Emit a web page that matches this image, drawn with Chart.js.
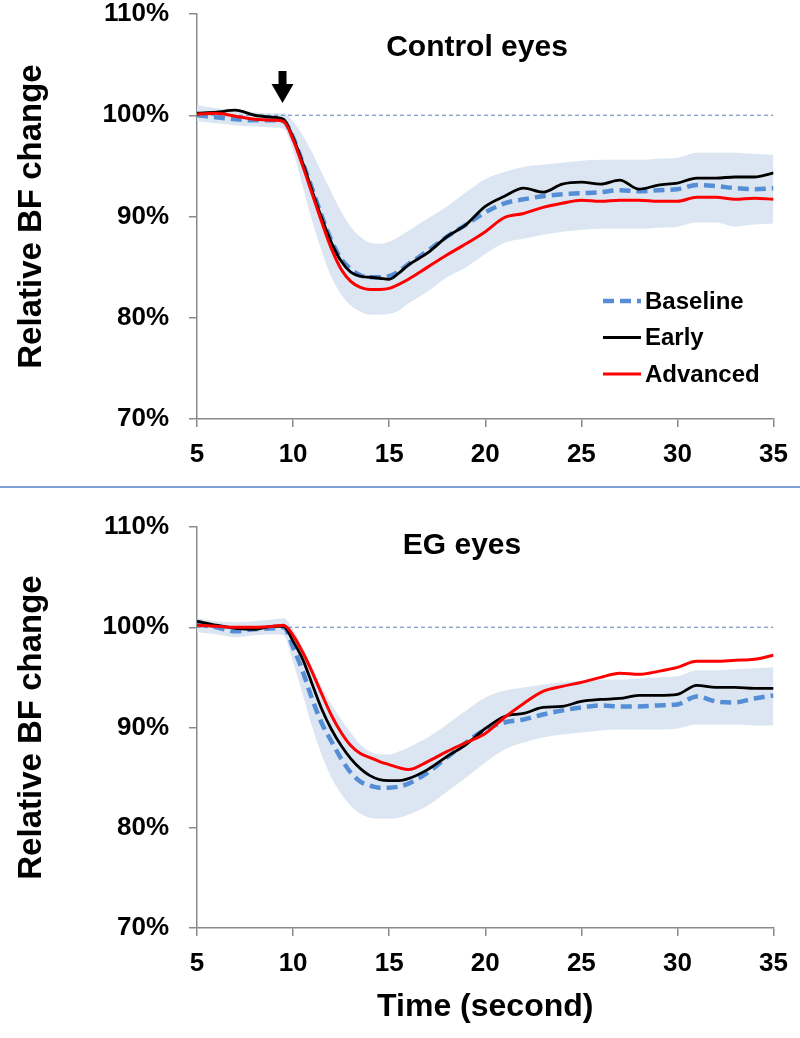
<!DOCTYPE html>
<html>
<head>
<meta charset="utf-8">
<script src="https://cdn.jsdelivr.net/npm/chart.js@4.4.1/dist/chart.umd.min.js"></script>
<style>
  body { margin: 0; background: #fff; overflow: hidden; }
  #wrap { position: relative; width: 800px; height: 1038px; overflow: hidden; }
  #topChart { position: absolute; left: 0; top: -25px; }
  #bottomChart { position: absolute; left: 0; top: 488px; }
  #rule { position: absolute; left: 0; top: 486px; width: 800px; height: 2px; background: #7f9fd3; }
</style>
</head>
<body>
<div id="wrap">
  <canvas id="topChart" width="800" height="511"></canvas>
  <div id="rule"></div>
  <canvas id="bottomChart" width="800" height="550"></canvas>
</div>
<script>
// time in seconds
const times = [5, 6, 7, 8, 9, 9.5, 10, 10.5, 11, 11.5, 12, 12.5, 13, 13.5, 14, 14.5, 15, 15.5,
               16, 17, 18, 19, 20, 21, 22, 23, 24, 25, 26, 27, 28, 29, 30, 31, 32, 33, 34, 35];
const xTicks = [5, 10, 15, 20, 25, 30, 35];
const yTicks = [70, 80, 90, 100, 110];
const refLevel = 100;
const stimulusTime = 9.45;

// Control eyes (relative BF, %)
const controlBaseline = [100.0, 99.8, 99.6, 99.5, 99.5, 99.4, 97.8, 95.3, 92.7, 90.0, 87.6, 85.8, 84.8, 84.2, 84.0, 84.0, 84.1, 84.6,
                         85.3, 86.6, 88.0, 89.2, 90.4, 91.3, 91.7, 92.0, 92.2, 92.3, 92.4, 92.6, 92.5, 92.6, 92.7, 93.1, 93.0, 92.8, 92.7, 92.8];
const controlEarly = [100.2, 100.3, 100.5, 100.0, 99.8, 99.6, 97.8, 95.3, 92.5, 89.8, 87.4, 85.6, 84.5, 84.1, 84.0, 83.9, 83.8, 84.4,
                      85.2, 86.4, 88.0, 89.2, 91.0, 92.0, 92.8, 92.4, 93.2, 93.4, 93.2, 93.6, 92.7, 93.1, 93.3, 93.8, 93.8, 93.9, 93.9, 94.3];
const controlAdvanced = [100.1, 100.2, 99.9, 99.6, 99.5, 99.4, 97.6, 95.0, 92.2, 89.4, 86.8, 84.8, 83.6, 83.0, 82.8, 82.8, 82.9, 83.3,
                         83.8, 85.0, 86.2, 87.3, 88.5, 89.9, 90.3, 90.9, 91.3, 91.6, 91.5, 91.6, 91.6, 91.5, 91.5, 91.9, 91.9, 91.7, 91.8, 91.7];
const controlUpper = [101.0, 100.7, 100.5, 100.3, 100.2, 100.2, 99.4, 98.0, 96.3, 94.3, 92.4, 90.5, 89.0, 88.0, 87.4, 87.3, 87.5, 88.0,
                      88.6, 89.8, 91.0, 92.4, 93.7, 94.4, 94.9, 95.1, 95.3, 95.5, 95.6, 95.6, 95.6, 95.7, 95.8, 96.3, 96.3, 96.3, 96.2, 96.1];
const controlLower = [99.4, 99.2, 99.0, 98.9, 98.8, 98.7, 96.5, 93.0, 89.5, 86.5, 84.0, 82.3, 81.2, 80.6, 80.3, 80.3, 80.4, 80.7,
                      81.4, 82.6, 84.0, 85.0, 86.3, 87.4, 87.8, 88.2, 88.5, 88.7, 88.8, 88.8, 88.8, 88.9, 89.0, 89.4, 89.4, 89.0, 89.2, 89.3];

// EG eyes (relative BF, %)
const egBaseline = [100.3, 100.0, 99.6, 99.8, 99.9, 100.0, 98.0, 95.6, 92.8, 90.4, 88.6, 86.9, 85.5, 84.6, 84.2, 84.0, 84.0, 84.1,
                    84.4, 85.5, 87.0, 88.5, 89.8, 90.5, 90.8, 91.3, 91.7, 92.0, 92.2, 92.1, 92.1, 92.2, 92.3, 93.1, 92.6, 92.5, 92.9, 93.2];
const egEarly = [100.6, 100.2, 99.9, 99.8, 100.1, 100.1, 98.6, 96.8, 94.3, 91.8, 89.8, 88.2, 86.9, 85.9, 85.2, 84.8, 84.7, 84.7,
                 84.9, 85.8, 87.1, 88.3, 89.9, 91.1, 91.4, 92.0, 92.1, 92.6, 92.8, 92.9, 93.2, 93.2, 93.3, 94.2, 94.0, 94.0, 93.9, 93.9];
const egAdvanced = [100.2, 100.1, 100.0, 100.0, 100.1, 100.2, 99.2, 97.5, 95.5, 93.3, 91.2, 89.5, 88.2, 87.4, 87.0, 86.6, 86.3, 86.0,
                    85.8, 86.6, 87.6, 88.5, 89.4, 91.0, 92.4, 93.6, 94.1, 94.5, 95.0, 95.4, 95.3, 95.6, 96.0, 96.6, 96.6, 96.7, 96.8, 97.2];
const egUpper = [100.9, 100.6, 100.5, 100.6, 100.8, 100.9, 99.8, 98.0, 96.0, 94.0, 92.3, 90.8, 89.5, 88.3, 87.6, 87.3, 87.3, 87.6,
                 88.0, 89.0, 90.3, 91.7, 93.0, 93.7, 94.0, 94.3, 94.5, 94.7, 94.8, 94.8, 94.9, 95.0, 95.1, 95.7, 95.7, 95.8, 95.9, 96.0];
const egLower = [99.5, 99.3, 99.0, 99.2, 99.3, 99.2, 96.5, 93.3, 90.0, 87.2, 85.0, 83.4, 82.2, 81.4, 81.0, 80.9, 80.9, 81.0,
                 81.3, 82.2, 83.6, 85.0, 86.5, 87.8, 88.5, 89.0, 89.3, 89.5, 89.7, 89.8, 89.8, 89.8, 89.9, 90.3, 90.3, 90.3, 90.2, 90.2];

const FONT = '"Liberation Sans", Arial, sans-serif';
const BLUE = '#558ed5';
const BAND = '#dce6f2';
const AXIS = '#8a8a8a';

const pts = vals => vals.map((v, i) => ({ x: times[i], y: v }));

// titles, stimulus arrow and the in-plot legend
const overlay = {
    id: 'overlay',
    afterDraw(chart, args, o) {
        const ctx = chart.ctx;
        ctx.save();
        ctx.fillStyle = '#000';
        ctx.font = 'bold 30px ' + FONT;
        ctx.textAlign = 'center';
        ctx.textBaseline = 'middle';
        ctx.fillText(o.title, o.titleX, o.titleY);

        if (o.arrowTop) {
            const ax = chart.scales.x.getPixelForValue(stimulusTime);
            const t = o.arrowTop;
            ctx.fillRect(ax - 4, t, 8, 14);
            ctx.beginPath();
            ctx.moveTo(ax - 11, t + 13);
            ctx.lineTo(ax + 11, t + 13);
            ctx.lineTo(ax, t + 32);
            ctx.closePath();
            ctx.fill();
        }

        if (o.legendX) {
            const items = chart.data.datasets.filter(d => d.inLegend);
            ctx.font = 'bold 24px ' + FONT;
            ctx.textAlign = 'left';
            items.forEach((d, i) => {
                const y = o.legendY + i * o.legendGap;
                ctx.strokeStyle = d.borderColor;
                ctx.lineWidth = d.borderWidth;
                ctx.setLineDash(d.borderDash || []);
                ctx.beginPath();
                ctx.moveTo(o.legendX, y);
                ctx.lineTo(o.legendX + 38, y);
                ctx.stroke();
                ctx.setLineDash([]);
                ctx.fillText(d.label, o.legendX + 42, y + 1);
            });
        }
        ctx.restore();
    }
};

function makeChart(id, s, cfg) {
    return new Chart(document.getElementById(id), {
        type: 'line',
        data: {
            datasets: [
                { label: 'Baseline', inLegend: true, data: pts(s.baseline), borderColor: BLUE, borderWidth: 4.5, borderDash: [11, 6], order: 3 },
                { label: 'Early', inLegend: true, data: pts(s.early), borderColor: '#000000', borderWidth: 2.8, order: 2 },
                { label: 'Advanced', inLegend: true, data: pts(s.advanced), borderColor: '#ff0000', borderWidth: 3, order: 1 },
                { label: 'ref', data: pts(times.map(() => refLevel)), borderColor: '#5b83b8', borderWidth: 1.2, borderDash: [4, 3], order: 4 },
                { label: 'upper', data: pts(s.upper), borderWidth: 0, borderColor: BAND, backgroundColor: BAND, fill: '+1', order: 5 },
                { label: 'lower', data: pts(s.lower), borderWidth: 0, borderColor: BAND, order: 6 }
            ].map(d => ({ ...d, pointRadius: 0, cubicInterpolationMode: 'monotone' }))
        },
        options: {
            responsive: false,
            animation: false,
            layout: { padding: { left: 0, right: 24, top: 39, bottom: 0 } },
            plugins: {
                legend: { display: false },
                tooltip: { enabled: false },
                overlay: cfg.overlay
            },
            scales: {
                x: {
                    type: 'linear', min: 5, max: 35,
                    afterBuildTicks: sc => { sc.ticks = xTicks.map(v => ({ value: v })); },
                    afterFit: sc => { sc.height = cfg.xHeight; },
                    border: { color: AXIS, width: 1.5 },
                    grid: { drawOnChartArea: false, color: AXIS, tickLength: 8, lineWidth: 1.5 },
                    ticks: { color: '#000', padding: 12, maxRotation: 0, font: { family: FONT, size: 26, weight: 'bold' } },
                    title: cfg.xTitle ? {
                        display: true, text: 'Time (second)', color: '#000',
                        font: { family: FONT, size: 32, weight: 'bold' }, padding: { bottom: 12 }
                    } : { display: false }
                },
                y: {
                    min: 70, max: 110,
                    afterBuildTicks: sc => { sc.ticks = yTicks.map(v => ({ value: v })); },
                    afterFit: sc => { sc.width = 197; },
                    border: { color: AXIS, width: 1.5 },
                    grid: { drawOnChartArea: false, color: AXIS, tickLength: 8, lineWidth: 1.5 },
                    ticks: { color: '#000', padding: 20, callback: v => v + '%', font: { family: FONT, size: 26, weight: 'bold' } },
                    title: {
                        display: true, text: 'Relative BF change', color: '#000',
                        font: { family: FONT, size: 33, weight: 'bold' }, padding: { top: 12 }
                    }
                }
            }
        },
        plugins: [overlay]
    });
}

makeChart('topChart',
    { baseline: controlBaseline, early: controlEarly, advanced: controlAdvanced, upper: controlUpper, lower: controlLower },
    { xHeight: 67, xTitle: false,
      overlay: { title: 'Control eyes', titleX: 477, titleY: 73, arrowTop: 96, legendX: 603, legendY: 326, legendGap: 36.5 } });

makeChart('bottomChart',
    { baseline: egBaseline, early: egEarly, advanced: egAdvanced, upper: egUpper, lower: egLower },
    { xHeight: 110, xTitle: true,
      overlay: { title: 'EG eyes', titleX: 462, titleY: 58 } });
</script>
</body>
</html>
